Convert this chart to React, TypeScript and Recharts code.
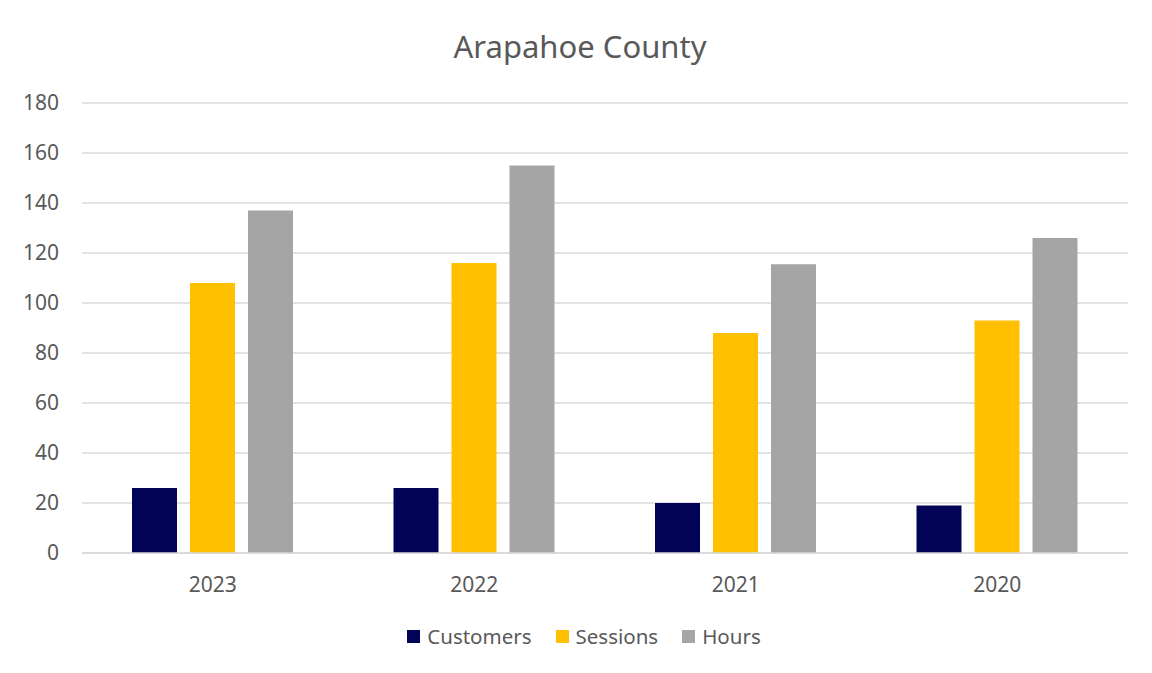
import { BarChart, Bar, XAxis, YAxis, CartesianGrid, Legend } from "recharts";

const years = ["2023", "2022", "2021", "2020"];
const customers = [26, 26, 20, 19];
const sessions = [108, 116, 88, 93];
const hours = [137, 155, 115.5, 126];
const yTicks = [0, 20, 40, 60, 80, 100, 120, 140, 160, 180];

const seriesInfo = [
  { key: "Customers", color: "#020356" },
  { key: "Sessions", color: "#FFC000" },
  { key: "Hours", color: "#A5A5A5" },
];

const data = years.map((y, i) => ({
  year: y,
  Customers: customers[i],
  Sessions: sessions[i],
  Hours: hours[i],
}));

const FONT = "'Noto Sans', 'Open Sans', sans-serif";
const TXT = "#595959";

function LegendBox() {
  return (
    <div
      style={{
        height: 70,
        display: "flex",
        justifyContent: "center",
        alignItems: "flex-start",
        paddingTop: 21,
        paddingLeft: 40,
        boxSizing: "border-box",
        fontFamily: FONT,
        fontSize: 20.5,
        color: TXT,
        lineHeight: "24px",
      }}
    >
      {seriesInfo.map((s) => (
        <div key={s.key} style={{ display: "flex", alignItems: "center", margin: "0 12px" }}>
          <span style={{ width: 13, height: 13, background: s.color, marginRight: 7, display: "inline-block" }} />
          {s.key}
        </div>
      ))}
    </div>
  );
}

export default function App() {
  return (
    <div style={{ position: "relative", width: 1152, height: 673, margin: "-8px 0 0 -8px", background: "#fff" }}>
      <BarChart
        width={1152}
        height={673}
        data={data}
        margin={{ top: 103, right: 24, left: 0, bottom: 0 }}
        barGap={13}
        barCategoryGap={50}
      >
        <CartesianGrid vertical={false} stroke="#d9d9d9" strokeWidth={1.5} />
        <XAxis
          dataKey="year"
          height={50}
          tickLine={false}
          tickSize={0}
          tickMargin={24}
          axisLine={{ stroke: "#d9d9d9", strokeWidth: 1.5 }}
          tick={{ fontFamily: FONT, fontSize: 21, fill: TXT }}
        />
        <YAxis
          width={82}
          domain={[0, 180]}
          ticks={yTicks}
          interval={0}
          tickLine={false}
          axisLine={false}
          tickSize={0}
          tickMargin={23}
          tick={{ fontFamily: FONT, fontSize: 21, fill: TXT }}
        />
        <Legend verticalAlign="bottom" content={() => <LegendBox />} />
        {seriesInfo.map((s) => (
          <Bar key={s.key} dataKey={s.key} fill={s.color} isAnimationActive={false} />
        ))}
      </BarChart>
      <div
        style={{
          position: "absolute",
          top: 25,
          left: 0,
          width: 1160,
          textAlign: "center",
          fontFamily: FONT,
          fontSize: 31,
          color: TXT,
        }}
      >
        Arapahoe County
      </div>
      {/* frame bits from the spreadsheet screenshot */}
      <div style={{ position: "absolute", left: 0, top: 3, width: 1152, height: 2, background: "#2f6fd6", zIndex: 5 }} />
      <div style={{ position: "absolute", left: 5, top: 5, width: 2, height: 668, background: "#e0e0e0", zIndex: 5 }} />
    </div>
  );
}
